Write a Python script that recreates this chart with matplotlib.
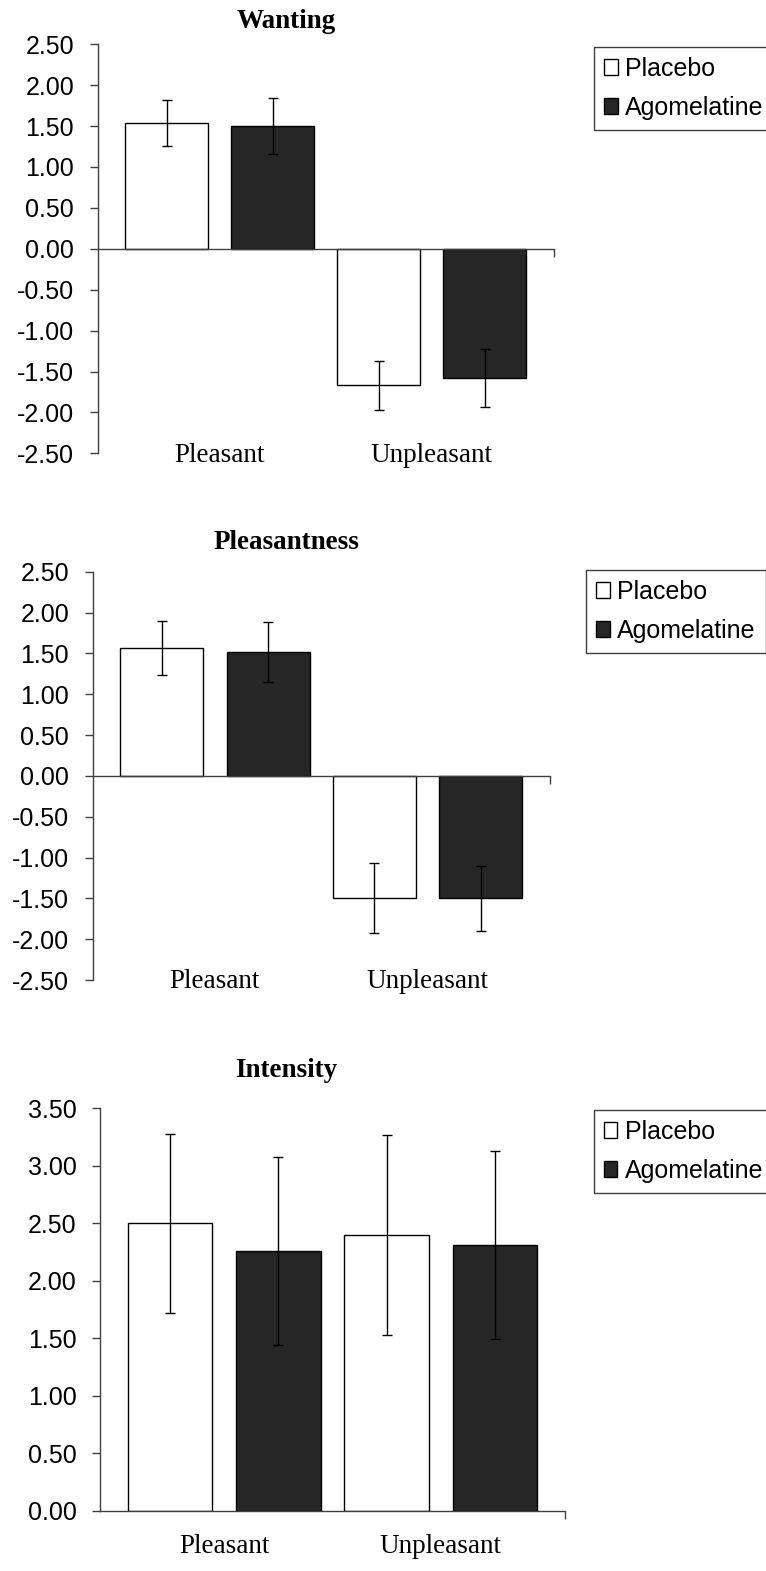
import numpy as np
import matplotlib
matplotlib.use('Agg')
import matplotlib.pyplot as plt
from matplotlib.ticker import FormatStrFormatter

plt.rcParams['axes.unicode_minus'] = False
plt.rcParams['font.family'] = ['Liberation Sans', 'DejaVu Sans']

# figure size in pixels
W, H = 766, 1571

# DATA
categories = ['Pleasant', 'Unpleasant']
series_names = ['Placebo', 'Agomelatine']

wanting_placebo = [1.54, -1.67]
wanting_placebo_err = [0.28, 0.30]
wanting_ago = [1.50, -1.58]
wanting_ago_err = [0.34, 0.35]

pleasant_placebo = [1.57, -1.50]
pleasant_placebo_err = [0.33, 0.43]
pleasant_ago = [1.52, -1.50]
pleasant_ago_err = [0.37, 0.40]

intensity_placebo = [2.50, 2.40]
intensity_placebo_err = [0.78, 0.87]
intensity_ago = [2.26, 2.31]
intensity_ago_err = [0.82, 0.82]


def px_rect(left, top, right, bottom):
    return [left / W, 1 - bottom / H, (right - left) / W, (bottom - top) / H]


def draw_panel(fig, rect, title, title_y, placebo, placebo_err, ago, ago_err,
               ymin, ymax, label_offset, legend_xy):
    ax = fig.add_axes(px_rect(*rect))
    idx = np.arange(len(categories)) * 2

    ax.bar(idx, placebo, width=0.78, color='white', edgecolor='black',
           linewidth=1, label=series_names[0], zorder=2)
    ax.bar(idx + 1, ago, width=0.78, color='#262626', edgecolor='black',
           linewidth=1, label=series_names[1], zorder=2)
    ax.errorbar(idx, placebo, yerr=placebo_err, fmt='none', ecolor='black',
                elinewidth=1, capsize=3.6, capthick=1, zorder=3)
    ax.errorbar(idx + 1, ago, yerr=ago_err, fmt='none', ecolor='black',
                elinewidth=1, capsize=3.6, capthick=1, zorder=3)

    ax.set_xlim(-0.65, 3.65)
    ax.set_ylim(ymin, ymax)
    ax.set_yticks(np.arange(ymin, ymax + 0.25, 0.5))
    ax.yaxis.set_major_formatter(FormatStrFormatter('%.2f'))

    # spines like excel: y axis on the left, category axis at zero
    ax.spines['top'].set_visible(False)
    ax.spines['right'].set_visible(False)
    ax.spines['bottom'].set_position(('data', 0))
    for side in ['left', 'bottom']:
        ax.spines[side].set_color('#404040')
        ax.spines[side].set_linewidth(1)

    ax.set_xticks([3.65])
    ax.set_xticklabels([''])
    ax.tick_params(axis='x', direction='out', length=6, width=1, color='#404040')
    ax.tick_params(axis='y', direction='out', length=6, width=1, color='#404040',
                   pad=11, labelsize=18)

    # category labels sit below the plot area
    for i, cat in enumerate(categories):
        ax.text(idx[i] + 0.5, label_offset, cat, transform=ax.get_xaxis_transform(),
                ha='center', va='center', fontfamily='Liberation Serif', fontsize=19.5)

    fig.text(286 / W, 1 - title_y / H, title, ha='center', va='center',
             fontfamily='Liberation Serif', fontweight='bold', fontsize=19.5)

    leg = ax.legend(loc='upper left', bbox_to_anchor=(legend_xy[0] / W, 1 - legend_xy[1] / H),
                    bbox_transform=fig.transFigure, borderaxespad=0, fontsize=18,
                    handlelength=0.55, handleheight=0.6, handletextpad=0.3,
                    borderpad=0.4, labelspacing=0.6, fancybox=False, framealpha=1)
    leg.get_frame().set_edgecolor('#404040')
    leg.get_frame().set_linewidth(1)
    return ax


fig = plt.figure(figsize=(W / 100, H / 100), dpi=100)

# WANTING
draw_panel(fig, (97.7, 44.3, 553.5, 453.3), 'Wanting', 22,
           wanting_placebo, wanting_placebo_err, wanting_ago, wanting_ago_err,
           -2.5, 2.5, -0.006, (594, 47))

# PLEASANTNESS
draw_panel(fig, (92.8, 571.7, 549.6, 980), 'Pleasantness', 542.7,
           pleasant_placebo, pleasant_placebo_err, pleasant_ago, pleasant_ago_err,
           -2.5, 2.5, -0.004, (586, 570))

# INTENSITY
draw_panel(fig, (100, 1108.3, 565, 1510.7), 'Intensity', 1070.7,
           intensity_placebo, intensity_placebo_err, intensity_ago, intensity_ago_err,
           0.0, 3.5, -0.09, (593.5, 1110))

fig.savefig('out.png', dpi=100)
